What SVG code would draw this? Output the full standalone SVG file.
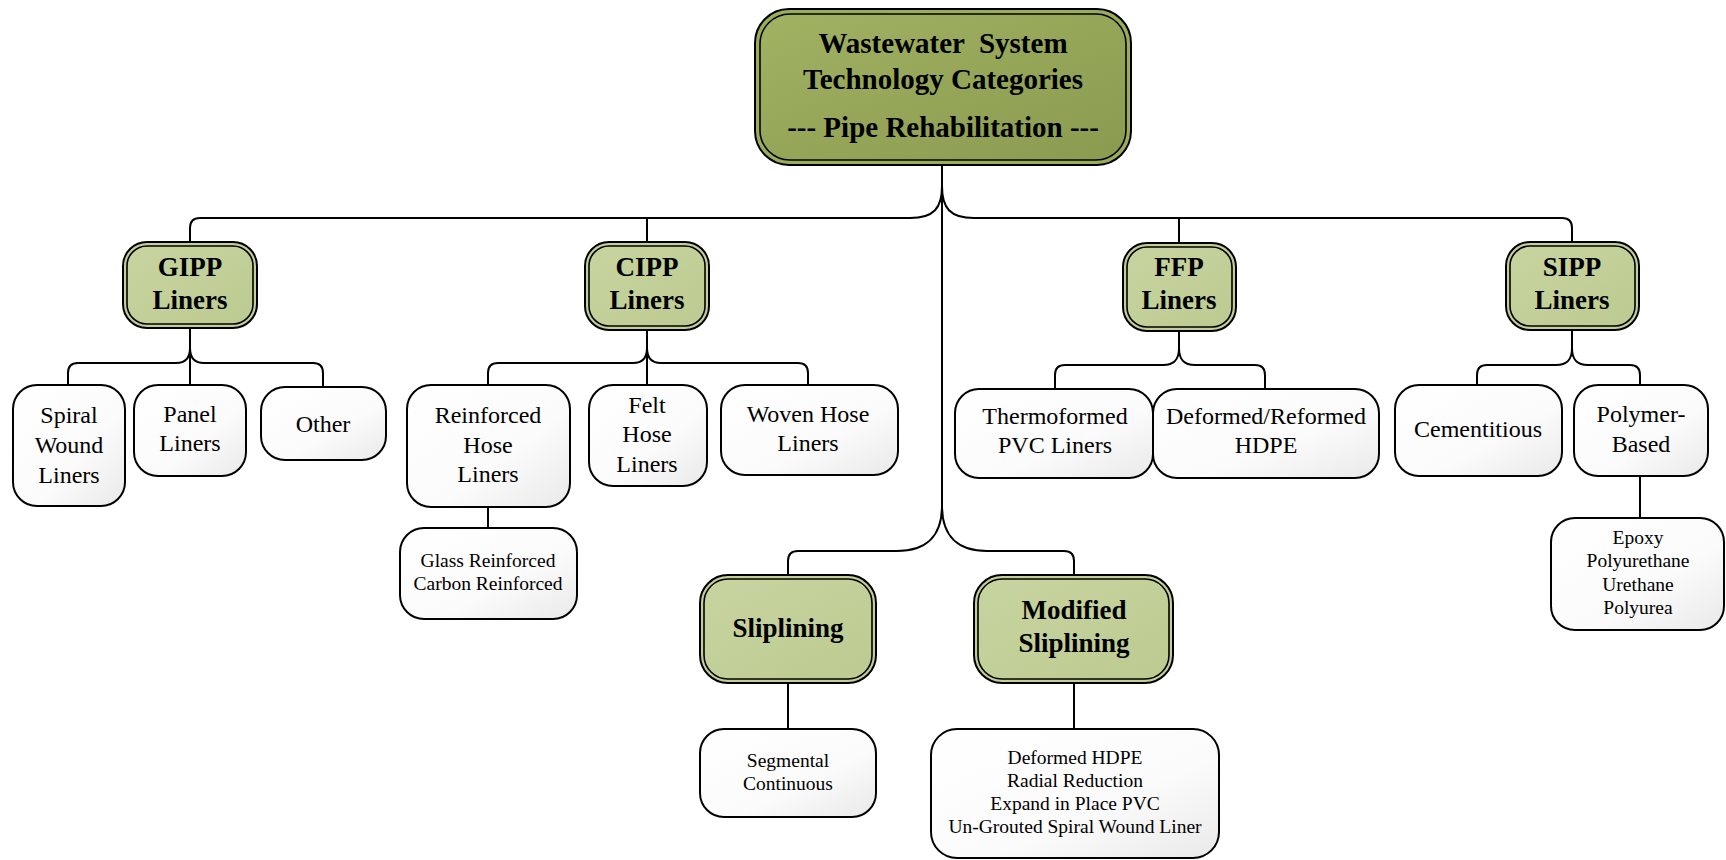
<svg xmlns="http://www.w3.org/2000/svg" width="1726" height="860" viewBox="0 0 1726 860">
<defs>
<linearGradient id="gRoot" x1="0" y1="0" x2="1" y2="1">
<stop offset="0" stop-color="#a2b263"/>
<stop offset="1" stop-color="#8a9a4f"/>
</linearGradient>
<linearGradient id="gMid" x1="0" y1="0" x2="1" y2="1">
<stop offset="0" stop-color="#c8d4a0"/>
<stop offset="1" stop-color="#bccb91"/>
</linearGradient>
<linearGradient id="gLeaf" x1="0" y1="0" x2="1" y2="1">
<stop offset="0" stop-color="#ffffff"/>
<stop offset="0.6" stop-color="#fbfbfb"/>
<stop offset="1" stop-color="#e9e9e9"/>
</linearGradient>
</defs>
<style>
.con{fill:none;stroke:#000;stroke-width:2}
.rootO{fill:#9aab5a;stroke:#000;stroke-width:2}
.rootI{fill:url(#gRoot);stroke:#000;stroke-width:1.6}
.midO{fill:#c3cf97;stroke:#000;stroke-width:2}
.midI{fill:url(#gMid);stroke:#000;stroke-width:1.6}
.leaf{fill:url(#gLeaf);stroke:#000;stroke-width:2}
text{font-family:"Liberation Serif","Times New Roman",serif;fill:#000;text-anchor:middle}
.tr{font-size:29px;font-weight:bold}
.tm{font-size:27px;font-weight:bold}
.tl{font-size:24px}
.ts{font-size:19.5px}
</style>
<rect width="1726" height="860" fill="#fff"/>
<g id="connectors">
<path class="con" d="M942,165 V508"/>
<path class="con" d="M942,186 C942,208 934,218 910,218 H200 Q190,218 190,228 V242"/>
<path class="con" d="M942,186 C942,208 950,218 974,218 H1562 Q1572,218 1572,228 V242"/>
<path class="con" d="M647,218 V242"/>
<path class="con" d="M1179,218 V243"/>
<path class="con" d="M942,506 C942,536 958,551 987,551 H1064 Q1074,551 1074,561 V575"/>
<path class="con" d="M942,506 C942,536 926,551 897,551 H798 Q788,551 788,561 V575"/>
<path class="con" d="M190,328 V385"/>
<path class="con" d="M190,348 C190,359 185,363 176,363 H78 Q68,363 68,373 V385"/>
<path class="con" d="M190,348 C190,359 195,363 204,363 H313 Q323,363 323,373 V387"/>
<path class="con" d="M647,330 V385"/>
<path class="con" d="M647,348 C647,359 642,363 633,363 H498 Q488,363 488,373 V385"/>
<path class="con" d="M647,348 C647,359 652,363 661,363 H798 Q808,363 808,373 V385"/>
<path class="con" d="M488,507 V528"/>
<path class="con" d="M1179,331 V348 C1179,360 1174,365 1163,365 H1065 Q1055,365 1055,375 V389"/>
<path class="con" d="M1179,348 C1179,360 1184,365 1195,365 H1255 Q1265,365 1265,375 V389"/>
<path class="con" d="M1572,330 V348 C1572,360 1567,365 1556,365 H1487 Q1477,365 1477,375 V385"/>
<path class="con" d="M1572,348 C1572,360 1577,365 1588,365 H1630 Q1640,365 1640,375 V385"/>
<path class="con" d="M1640,476 V518"/>
<path class="con" d="M788,683 V729"/>
<path class="con" d="M1074,683 V729"/>
</g>
<g id="root">
<rect class="rootO" x="755" y="9" width="376" height="156" rx="34"/>
<rect class="rootI" x="760" y="14" width="366" height="146" rx="30"/>
<text class="tr" x="943" y="53" xml:space="preserve">Wastewater  System</text>
<text class="tr" x="943" y="89">Technology Categories</text>
<text class="tr" x="943" y="137">--- Pipe Rehabilitation ---</text>
</g>
<g id="gipp">
<rect class="midO" x="123" y="242" width="134" height="86" rx="24"/>
<rect class="midI" x="127" y="246" width="126" height="78" rx="20"/>
<text class="tm" x="190" y="276">GIPP</text>
<text class="tm" x="190" y="309">Liners</text>
</g>
<g id="cipp">
<rect class="midO" x="585" y="242" width="124" height="88" rx="24"/>
<rect class="midI" x="589" y="246" width="116" height="80" rx="20"/>
<text class="tm" x="647" y="276">CIPP</text>
<text class="tm" x="647" y="309">Liners</text>
</g>
<g id="ffp">
<rect class="midO" x="1123" y="243" width="113" height="88" rx="24"/>
<rect class="midI" x="1127" y="247" width="105" height="80" rx="20"/>
<text class="tm" x="1179" y="276">FFP</text>
<text class="tm" x="1179" y="309">Liners</text>
</g>
<g id="sipp">
<rect class="midO" x="1506" y="242" width="133" height="88" rx="24"/>
<rect class="midI" x="1510" y="246" width="125" height="80" rx="20"/>
<text class="tm" x="1572" y="276">SIPP</text>
<text class="tm" x="1572" y="309">Liners</text>
</g>
<g id="sliplining">
<rect class="midO" x="700" y="575" width="176" height="108" rx="28"/>
<rect class="midI" x="704" y="579" width="168" height="100" rx="24"/>
<text class="tm" x="788" y="637">Sliplining</text>
</g>
<g id="modified-sliplining">
<rect class="midO" x="974" y="575" width="199" height="108" rx="28"/>
<rect class="midI" x="978" y="579" width="191" height="100" rx="24"/>
<text class="tm" x="1074" y="619">Modified</text>
<text class="tm" x="1074" y="652">Sliplining</text>
</g>
<g id="spiral-wound">
<rect class="leaf" x="13" y="385" width="112" height="121" rx="24"/>
<text class="tl" x="69" y="423">Spiral</text>
<text class="tl" x="69" y="453">Wound</text>
<text class="tl" x="69" y="483">Liners</text>
</g>
<g id="panel-liners">
<rect class="leaf" x="134" y="385" width="112" height="91" rx="24"/>
<text class="tl" x="190" y="422">Panel</text>
<text class="tl" x="190" y="451">Liners</text>
</g>
<g id="other">
<rect class="leaf" x="261" y="387" width="125" height="73" rx="24"/>
<text class="tl" x="323" y="432">Other</text>
</g>
<g id="reinforced-hose">
<rect class="leaf" x="407" y="385" width="163" height="122" rx="24"/>
<text class="tl" x="488" y="423">Reinforced</text>
<text class="tl" x="488" y="453">Hose</text>
<text class="tl" x="488" y="482">Liners</text>
</g>
<g id="felt-hose">
<rect class="leaf" x="589" y="385" width="118" height="101" rx="24"/>
<text class="tl" x="647" y="413">Felt</text>
<text class="tl" x="647" y="442">Hose</text>
<text class="tl" x="647" y="472">Liners</text>
</g>
<g id="woven-hose">
<rect class="leaf" x="721" y="385" width="177" height="90" rx="24"/>
<text class="tl" x="808" y="422">Woven Hose</text>
<text class="tl" x="808" y="451">Liners</text>
</g>
<g id="glass-carbon">
<rect class="leaf" x="400" y="528" width="177" height="91" rx="24"/>
<text class="ts" x="488" y="567">Glass Reinforced</text>
<text class="ts" x="488" y="590">Carbon Reinforced</text>
</g>
<g id="thermoformed">
<rect class="leaf" x="955" y="389" width="198" height="89" rx="24"/>
<text class="tl" x="1055" y="424">Thermoformed</text>
<text class="tl" x="1055" y="453">PVC Liners</text>
</g>
<g id="deformed-reformed">
<rect class="leaf" x="1153" y="389" width="226" height="89" rx="24"/>
<text class="tl" x="1266" y="424">Deformed/Reformed</text>
<text class="tl" x="1266" y="453">HDPE</text>
</g>
<g id="cementitious">
<rect class="leaf" x="1395" y="385" width="167" height="91" rx="24"/>
<text class="tl" x="1478" y="437">Cementitious</text>
</g>
<g id="polymer-based">
<rect class="leaf" x="1574" y="385" width="134" height="91" rx="24"/>
<text class="tl" x="1641" y="422">Polymer-</text>
<text class="tl" x="1641" y="452">Based</text>
</g>
<g id="polymer-types">
<rect class="leaf" x="1551" y="518" width="173" height="112" rx="24"/>
<text class="ts" x="1638" y="544">Epoxy</text>
<text class="ts" x="1638" y="567">Polyurethane</text>
<text class="ts" x="1638" y="591">Urethane</text>
<text class="ts" x="1638" y="614">Polyurea</text>
</g>
<g id="sliplining-types">
<rect class="leaf" x="700" y="729" width="176" height="88" rx="24"/>
<text class="ts" x="788" y="767">Segmental</text>
<text class="ts" x="788" y="790">Continuous</text>
</g>
<g id="modified-types">
<rect class="leaf" x="931" y="729" width="288" height="129" rx="26"/>
<text class="ts" x="1075" y="764">Deformed HDPE</text>
<text class="ts" x="1075" y="787">Radial Reduction</text>
<text class="ts" x="1075" y="810">Expand in Place PVC</text>
<text class="ts" x="1075" y="833">Un-Grouted Spiral Wound Liner</text>
</g>
</svg>
